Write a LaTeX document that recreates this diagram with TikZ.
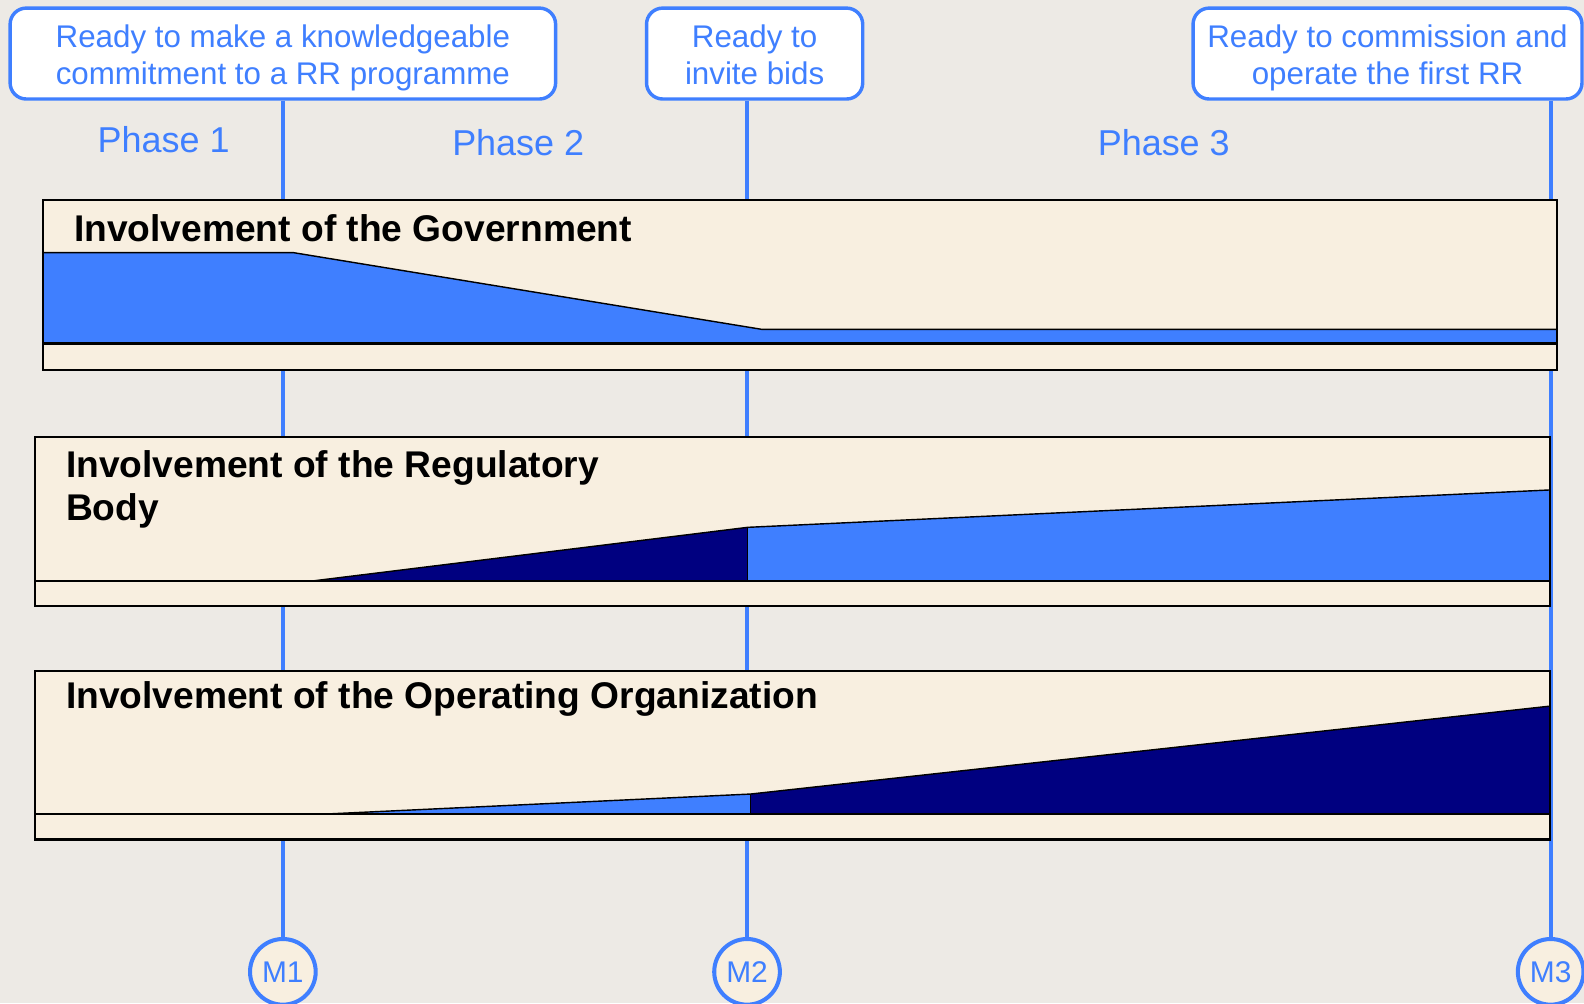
\documentclass[tikz,border=0pt]{standalone}
\usepackage{fontspec}
\setmainfont{Liberation Sans}
\definecolor{bg}{HTML}{EDEAE5}
\definecolor{cream}{HTML}{F8EFE0}
\definecolor{mblue}{HTML}{3F7FFF}
\definecolor{navy}{HTML}{000080}
\begin{document}
\begin{tikzpicture}[x=0.5pt,y=-0.5pt,
  milestone/.style={draw=mblue, line width=1.7pt, fill=white, rounded corners=8pt,
    minimum height=45pt, inner sep=0pt},
  mtext/.style={text=mblue, align=center, font=\fontsize{15.5}{18.5}\selectfont,
    inner sep=0pt, yshift=-2.2pt},
  phase/.style={text=mblue, font=\fontsize{17.8}{20}\selectfont, inner sep=0pt},
  mcircle/.style={circle, draw=mblue, line width=2pt, fill=cream, text=mblue,
    minimum size=32.5pt, inner sep=0pt, font=\fontsize{14.8}{16}\selectfont},
  vline/.style={draw=mblue, line width=2pt},
  band/.style={draw=black, line width=1pt, fill=cream},
  bandtitle/.style={anchor=west, inner sep=0pt, align=left,
    font=\bfseries\fontsize{18.4}{21.5}\selectfont},
  area/.style={draw=black, line width=0.7pt, line join=round},
  baseline/.style={draw=black, line width=1.1pt}]
\useasboundingbox (0,0) rectangle (1568,993);
\clip (0,0) rectangle (1568,993);
\fill[bg] (0,0) rectangle (1568,993);

% milestone boxes
\node[milestone, minimum width=270pt, label={[mtext]center:Ready to make a knowledgeable\\commitment to a RR programme}] (b1) at (280,53) {};
\node[milestone, minimum width=107pt, label={[mtext, yshift=1.5pt]center:Ready to\\invite bids}] (b2) at (747,53) {};
\node[milestone, minimum width=192.5pt, label={[mtext]center:Ready to commission and\\operate the first RR}] (b3) at (1373.5,53) {};

% milestone circle positions
\coordinate (m1) at (280,962);
\coordinate (m2) at (739.5,962);
\coordinate (m3) at (1535,962);

% vertical connectors
\draw[vline] (m1 |- b1.south) -- (m1);
\draw[vline] (m2 |- b2.south) -- (m2);
\draw[vline] (m3 |- b3.south) -- (m3);
\node[mcircle] (c1) at (m1) {M1};
\node[mcircle] (c2) at (m2) {M2};
\node[mcircle] (c3) at (m3) {M3};

% phase labels
\node[phase] (p1) at (162,138) {Phase 1};
\node[phase] (p2) at (513,141) {Phase 2};
\node[phase] (p3) at (1152,141) {Phase 3};

% band 1: Government
\draw[band] (43,198) rectangle (1541,366);
\fill[mblue] (43,250) -- (290,250) -- (754,326) -- (1541,326) -- (1541,340) -- (43,340) -- cycle;
\draw[area] (43,250) -- (290,250) -- (754,326) -- (1541,326) -- (1541,340);
\draw[baseline] (43,340) -- (1541,340);
\draw[line width=1pt] (43,198) rectangle (1541,366);
\node[bandtitle] (t1) at (73,226) {Involvement of the Government};

% band 2: Regulatory Body
\draw[band] (35,433) rectangle (1534,600);
\fill[navy] (310,575) -- (740,522) -- (740,575) -- cycle;
\fill[mblue] (740,522) -- (1534,485) -- (1534,575) -- (740,575) -- cycle;
\draw[area] (310,575) -- (740,522) -- (1534,485);
\draw[area] (740,522) -- (740,575);
\draw[baseline] (35,575) -- (1534,575);
\draw[line width=1pt] (35,433) rectangle (1534,600);
\node[bandtitle] (t2) at (65,484.5) {Involvement of the Regulatory\\Body};

% band 3: Operating Organization
\draw[band] (35,664) rectangle (1534,831);
\fill[mblue] (318,806) -- (743,786) -- (743,806) -- cycle;
\fill[navy] (743,786) -- (1534,699) -- (1534,806) -- (743,806) -- cycle;
\draw[area] (318,806) -- (743,786) -- (1534,699);
\draw[area] (743,786) -- (743,806);
\draw[baseline] (35,806) -- (1534,806);
\draw[line width=1pt] (35,664) rectangle (1534,831);
\node[bandtitle] (t3) at (65,692) {Involvement of the Operating Organization};
\end{tikzpicture}
\end{document}
